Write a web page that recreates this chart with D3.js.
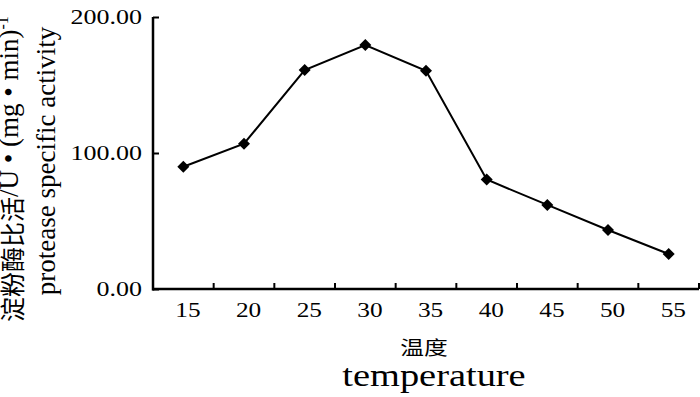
<!DOCTYPE html>
<html>
<head>
<meta charset="utf-8">
<script src="https://cdn.jsdelivr.net/npm/d3@7"></script>
<style>
  body { margin: 0; background: #fff; }
</style>
</head>
<body>
<div id="chart"></div>
<script>
var temps = ["15", "20", "25", "30", "35", "40", "45", "50", "55"];
var activity = [89.9, 106.8, 161, 179.4, 160.5, 80.5, 61.8, 43.4, 25.7];
var yTicks = [0, 100, 200];

var serif = "'Liberation Serif', 'Times New Roman', serif";
var cjk = "'Noto Sans CJK SC', sans-serif";

var svg = d3.select("#chart").append("svg")
    .attr("width", 700)
    .attr("height", 397);

var x = d3.scaleBand().domain(temps).range([153, 699]).padding(0);
var y = d3.scaleLinear().domain([0, 200]).range([289, 17]);

// y axis, ticks pointing inward
var yAxis = svg.append("g")
    .attr("transform", "translate(153,0)")
    .call(d3.axisRight(y).tickValues(yTicks).tickSize(6).tickFormat(d3.format(".2f")));
yAxis.select(".domain").attr("d", "M0," + y(200) + "V" + (y(0) + 1.5))
    .attr("stroke-width", 2.5);
yAxis.selectAll(".tick line").attr("stroke-width", 2);
yAxis.selectAll(".tick text")
    .attr("text-anchor", "end")
    .attr("x", -11 / 1.3)
    .attr("transform", "scale(1.3,1)")
    .style("font-family", serif)
    .style("font-size", "20px")
    .attr("fill", "#000");

// x axis: labels in band centres, ticks at band edges
var xAxis = svg.append("g")
    .attr("transform", "translate(0," + y(0) + ")")
    .call(d3.axisBottom(x).tickSize(0).tickPadding(12));
xAxis.select(".domain").attr("d", "M" + (x.range()[0] - 1) + ",0H" + x.range()[1])
    .attr("stroke-width", 2.5);
xAxis.selectAll(".tick text")
    .attr("transform", "scale(1.15,1)")
    .attr("x", 4)
    .style("font-family", serif)
    .style("font-size", "22px")
    .attr("fill", "#000");
xAxis.selectAll(".edge")
    .data(temps)
    .enter().append("line")
    .attr("x1", function(d) { return x(d) + x.bandwidth(); })
    .attr("x2", function(d) { return x(d) + x.bandwidth(); })
    .attr("y1", 0)
    .attr("y2", -6)
    .attr("stroke", "#000")
    .attr("stroke-width", 2);

// line and diamonds
var pts = temps.map(function(t, i) { return [x(t) + x.bandwidth() / 2, y(activity[i])]; });

svg.append("path")
    .attr("d", d3.line()(pts))
    .attr("fill", "none")
    .attr("stroke", "#000")
    .attr("stroke-width", 2);

svg.selectAll(".mark")
    .data(pts)
    .enter().append("path")
    .attr("d", d3.symbol().type(d3.symbolSquare).size(72))
    .attr("transform", function(d) { return "translate(" + d[0] + "," + d[1] + ") rotate(45)"; })
    .attr("fill", "#000");

// x titles
svg.append("text")
    .attr("transform", "translate(424,355) scale(1.25,1)")
    .attr("text-anchor", "middle")
    .style("font-family", cjk)
    .style("font-size", "19px")
    .text("温度");

svg.append("text")
    .attr("transform", "translate(434,386) scale(1.2,1)")
    .attr("text-anchor", "middle")
    .style("font-family", serif)
    .style("font-size", "32px")
    .text("temperature");

// y titles
var t1 = svg.append("text")
    .attr("transform", "translate(22,322) rotate(-90)")
    .attr("text-anchor", "start")
    .style("font-family", serif)
    .style("font-size", "27px");
t1.append("tspan").style("font-family", cjk).style("font-size", "25px").text("淀粉酶比活");
t1.append("tspan").attr("dy", -4).text("/U • (mg • min)");
t1.append("tspan").attr("dy", -10).style("font-size", "16px").text("-1");

svg.append("text")
    .attr("transform", "translate(55,161) rotate(-90)")
    .attr("text-anchor", "middle")
    .style("font-family", serif)
    .style("font-size", "27px")
    .text("protease specific activity");
</script>
</body>
</html>
